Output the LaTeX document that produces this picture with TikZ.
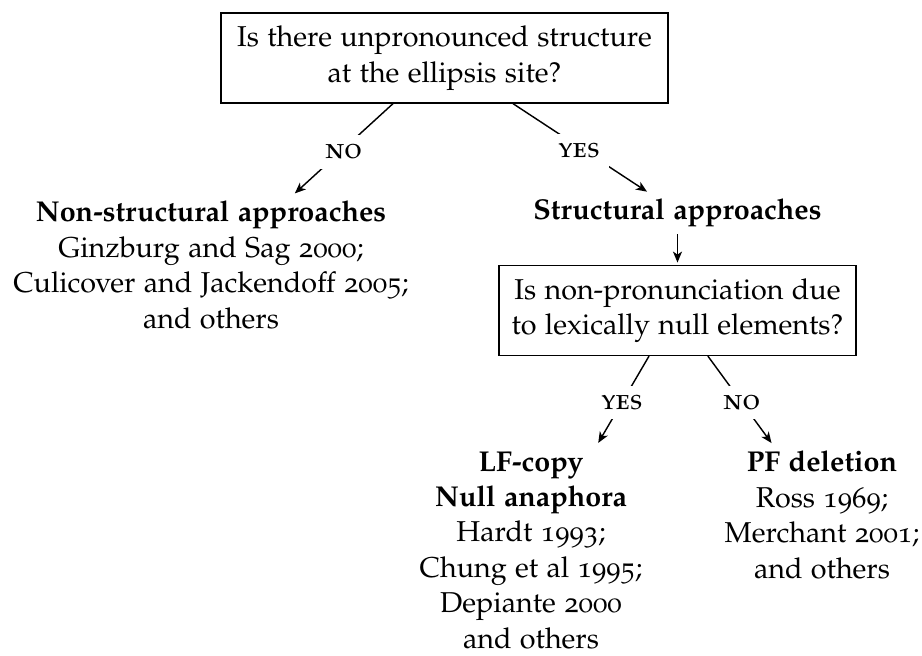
\documentclass[tikz,border=0pt]{standalone}
\usepackage[T1]{fontenc}
\usepackage[osf]{mathpazo}
\usetikzlibrary{arrows.meta}

\begin{document}
\begin{tikzpicture}[x=0.418pt,y=-0.418pt,>={Stealth[length=4.6pt,width=3.8pt,inset=1.3pt]},shorten >=1pt,semithick,
    every node/.style={font=\fontsize{12}{14.8}\selectfont,align=center},
    question/.style={draw,minimum height=37.5pt},
    answer/.style={fill=white,inner sep=4pt,font=\fontsize{12}{14.8}\selectfont\scshape},
    result/.style={anchor=north,inner sep=2.5pt}]

    \useasboundingbox (0,0) rectangle (922,655);

    % questions
    \node[question,minimum width=186.8pt] (Q1) at (444.5,58)    {Is there unpronounced structure\\at the ellipsis site?};
    \node[question,minimum width=149.2pt] (Q2) at (677.5,310.5) {Is non-pronunciation due\\to lexically null elements?};

    % approaches
    \node[result] (NS) at (211,195)   {\textbf{Non-structural approaches}\\Ginzburg and Sag 2000;\\Culicover and Jackendoff 2005;\\and others};
    \node[result] (SA) at (677.5,193) {\textbf{Structural approaches}};
    \node[result] (LF) at (531,445)   {\textbf{LF-copy}\\\textbf{Null anaphora}\\Hardt 1993;\\Chung et al 1995;\\Depiante 2000\\and others};
    \node[result] (PF) at (822,445)   {\textbf{PF deletion}\\Ross 1969;\\Merchant 2001;\\and others};

    % 1. first question: no / yes
    \draw[->] ([xshift=-21.5pt]Q1.south) -- node[answer,pos=.53,xshift=1.5pt] (N1) {no} ([xshift=34.3pt]NS.north);
    \draw[->] ([xshift=28.6pt]Q1.south) -- node[answer,pos=.53,xshift=-2.5pt] (Y1) {yes} ([xshift=-11.9pt]SA.north);

    % 2. structural approaches lead to the second question
    \draw[->] (SA.south -| Q2.north) -- (Q2.north);

    % 3. second question: yes / no
    \draw[->] ([xshift=-11.9pt]Q2.south) -- node[answer,pos=.52] (Y2) {yes} ([xshift=27.6pt]LF.north);
    \draw[->] ([xshift=12.7pt]Q2.south) -- node[answer,pos=.52] (N2) {no} ([xshift=-20.5pt]PF.north);

\end{tikzpicture}
\end{document}
